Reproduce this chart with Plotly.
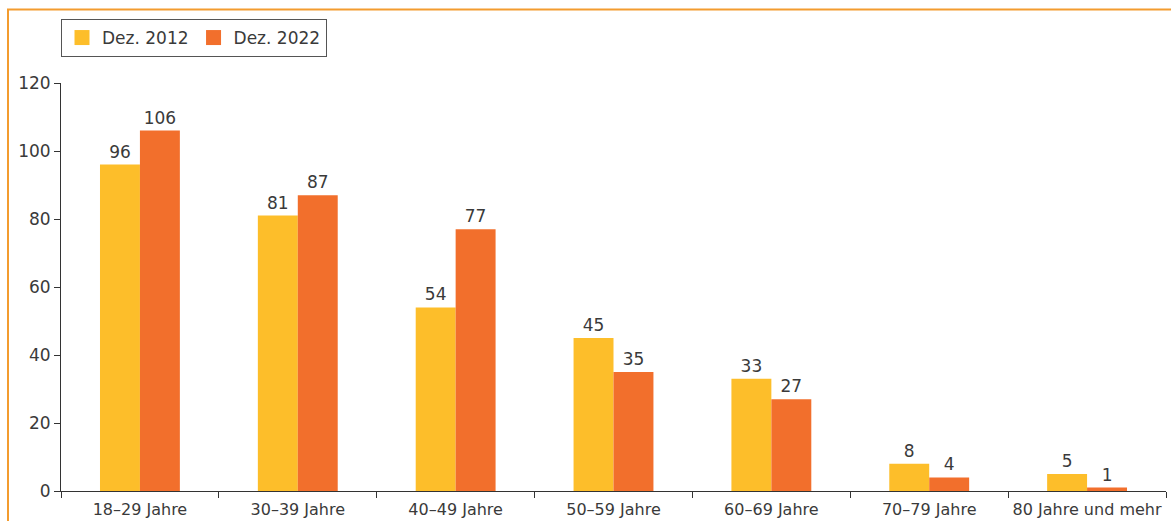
import plotly.graph_objects as go

# Altersgruppen und Werte je Stichtag
categories = ["18–29 Jahre", "30–39 Jahre", "40–49 Jahre", "50–59 Jahre",
              "60–69 Jahre", "70–79 Jahre", "80 Jahre und mehr"]
dez_2012 = [96, 81, 54, 45, 33, 8, 5]
dez_2022 = [106, 87, 77, 35, 27, 4, 1]
y_ticks = [0, 20, 40, 60, 80, 100, 120]

series = [("Dez. 2012", dez_2012, "#FDBE2A"), ("Dez. 2022", dez_2022, "#F26F2C")]

W, H = 1171, 521
L, R, T, B = 61, 5, 83, 30
plot_w = W - L - R
plot_h = H - T - B

def px_to_paper_x(px):
    return (px - L) / plot_w

def px_to_paper_y(py):
    return (H - B - py) / plot_h

font_family = "'DejaVu Sans', sans-serif"
text_color = "#3a3a3a"
fsize = 17

fig = go.Figure()
for name, values, color in series:
    fig.add_trace(go.Bar(
        name=name, x=categories, y=values,
        marker=dict(color=color, line=dict(width=0)),
        text=[str(v) for v in values], textposition="outside",
        textfont=dict(size=fsize, color=text_color, family=font_family),
        cliponaxis=False, showlegend=False, legendgroup=name,
    ))
# Legendeneinträge mit größeren quadratischen Symbolen
for name, values, color in series:
    fig.add_trace(go.Scatter(
        name=name, x=[None], y=[None], mode="markers",
        marker=dict(symbol="square", size=15, color=color),
        showlegend=True, legendgroup=name,
    ))

# Rahmen oben und links
fig.add_shape(type="rect", xref="paper", yref="paper",
              x0=px_to_paper_x(8), x1=px_to_paper_x(W + 20),
              y0=px_to_paper_y(H + 20), y1=px_to_paper_y(9.5),
              line=dict(color="#F39C2F", width=2), fillcolor="rgba(0,0,0,0)",
              layer="below")

fig.update_layout(
    width=W, height=H,
    margin=dict(l=L, r=R, t=T, b=B, pad=0, autoexpand=False),
    paper_bgcolor="white", plot_bgcolor="white",
    barmode="group", bargap=0.494, bargroupgap=0,
    font=dict(family=font_family, size=fsize, color=text_color),
    legend=dict(
        orientation="h", x=0, y=px_to_paper_y(19),
        xanchor="left", yanchor="top",
        bordercolor="#555555", borderwidth=1,
        font=dict(size=fsize, color=text_color),
        itemwidth=30, traceorder="normal",
    ),
    showlegend=True,
    xaxis=dict(
        showline=True, linecolor="#333333", linewidth=1,
        ticks="outside", tickson="boundaries", ticklen=6, tickcolor="#333333",
        showgrid=False, tickfont=dict(size=16, color=text_color),
        tickangle=0, automargin=False, ticklabelstandoff=4,
        range=[-0.5, len(categories) - 0.5],
    ),
    yaxis=dict(
        range=[0, 120], tickvals=y_ticks,
        showline=True, linecolor="#333333", linewidth=1,
        ticks="outside", ticklen=6, tickcolor="#333333",
        showgrid=False, zeroline=False, automargin=False,
        tickfont=dict(size=fsize, color=text_color),
    ),
)

fig.write_html("out.html")
